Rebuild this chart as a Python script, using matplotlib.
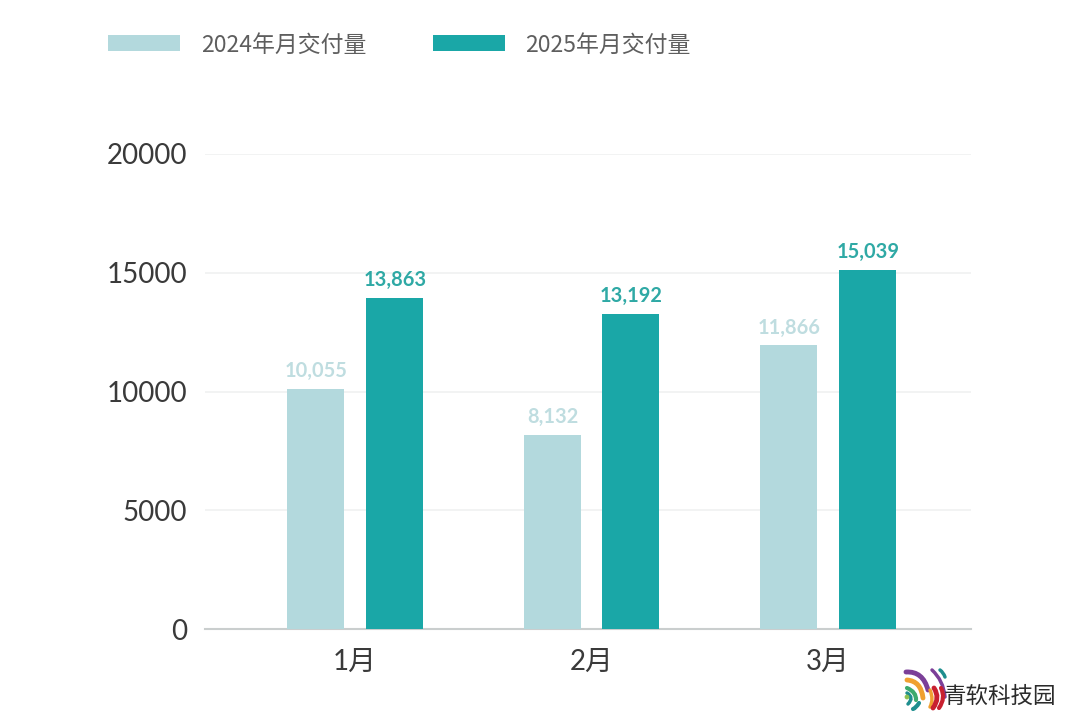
import numpy as np
import matplotlib
matplotlib.use("Agg")
import matplotlib.pyplot as plt
from matplotlib.patches import PathPatch, Rectangle
from matplotlib.path import Path

months = ["1月", "2月", "3月"]
series_2024 = [10055, 8132, 11866]
series_2025 = [13863, 13192, 15039]
name_2024 = "2024年月交付量"
name_2025 = "2025年月交付量"
y_ticks = [0, 5000, 10000, 15000, 20000]

LIGHT = "#B3D9DD"
DARK = "#1AA7A7"
FONT = ["Lato", "Noto Sans CJK SC", "DejaVu Sans"]
CJK = ["Noto Sans CJK SC", "DejaVu Sans"]
W, H = 1080, 715
SPACING = 236.5

fig = plt.figure(figsize=(W / 100, H / 100), dpi=100, facecolor="white")
rect = [205 / W, 1 - 629 / H, (971 - 205) / W, (629 - 154) / H]
ax = fig.add_axes(rect)
ax.set_xlim(-149.75 / SPACING, 2 + 143.25 / SPACING)
ax.set_ylim(0, 20000)
ax.set_yticks(y_ticks)
x = np.arange(len(months))
ax.set_xticks(x, months)
ax.grid(axis="y", color="#F0F1F1", lw=1.2, zorder=0)
ax.set_axisbelow(True)
for s in ("top", "right", "left"):
    ax.spines[s].set_visible(False)
ax.spines["bottom"].set_color("#CACECE")
ax.spines["bottom"].set_linewidth(1.5)
ax.tick_params(axis="both", length=0, labelcolor="#3A3A3A", labelsize=20)
ax.tick_params(axis="y", pad=13)
ax.tick_params(axis="x", pad=14)
for t in ax.get_xticklabels() + ax.get_yticklabels():
    t.set_family(FONT)

# The bars in the reference run about 1.5 px taller than the gridlines imply,
# so they sit on their own slightly finer scale over the same area.
bar_ax = fig.add_axes(rect, facecolor="none")
bar_ax.set_xlim(ax.get_xlim())
bar_ax.set_ylim(0, 19880)
bar_ax.axis("off")
width = 57 / SPACING
off = 39.25 / SPACING
b1 = bar_ax.bar(x - off, series_2024, width, color=LIGHT, zorder=3)
b2 = bar_ax.bar(x + off, series_2025, width, color=DARK, zorder=3)
for bars, vals, col in ((b1, series_2024, "#BFDDE0"), (b2, series_2025, "#2FA9A5")):
    for r, v in zip(bars, vals):
        bar_ax.annotate(f"{v:,}", (r.get_x() + r.get_width() / 2, v), xytext=(1, 8),
                        textcoords="offset pixels", ha="center", va="bottom",
                        fontsize=14.4, fontweight="bold", color=col, family=FONT, zorder=4)

# Overlay in pixel coordinates for legend and watermark
ov = fig.add_axes([0, 0, 1, 1], facecolor="none")
ov.set_xlim(0, W)
ov.set_ylim(H, 0)
ov.axis("off")
for px, col, label, tx in ((108, LIGHT, name_2024, 201), (433, DARK, name_2025, 525)):
    ov.add_patch(Rectangle((px, 35), 72, 16, color=col, lw=0))
    ov.text(tx, 45, label, fontsize=16.5, color="#5E5E5E", va="center", ha="left",
            family=CJK, fontweight="light")

# Watermark logo: strokes given as start, middle, end
strokes = [
    ((906, 672), (920, 676), (928, 690), "#7B3F98", 3.5),
    ((907, 680), (918, 685), (923, 698), "#F0A030", 3.5),
    ((907, 688), (914, 693), (916, 700), "#3DAA6D", 3),
    ((907, 693), (911, 698), (908, 704), "#1E8E8E", 2.5),
    ((913, 709), (916, 707), (919, 703), "#1E8E8E", 3),
    ((930, 690), (932, 699), (930, 707), "#F0A030", 2.5),
    ((934, 688), (937, 698), (933, 708), "#C8202F", 3.5),
    ((932, 670), (941, 682), (945, 697), "#7B3F98", 2.5),
    ((941, 688), (943, 698), (939, 708), "#C8202F", 3),
    ((940, 670), (943, 673), (945, 677), "#1E8E8E", 2.5),
]
for p0, pm, p2, col, lw in strokes:
    p0, pm, p2 = map(np.array, (p0, pm, p2))
    ctrl = 2 * pm - (p0 + p2) / 2
    ov.add_patch(PathPatch(Path([p0, ctrl, p2], [Path.MOVETO, Path.CURVE3, Path.CURVE3]),
                           fc="none", ec=col, lw=lw, capstyle="round"))
ov.add_patch(plt.Circle((907, 697), 2.4, color="#8CC152", lw=0))
ov.text(1056, 696, "青软科技园", fontsize=16.2, color="#2B2B2B", ha="right", va="center",
        family=CJK, fontweight="medium")

fig.savefig("out.png", dpi=100, facecolor="white")
